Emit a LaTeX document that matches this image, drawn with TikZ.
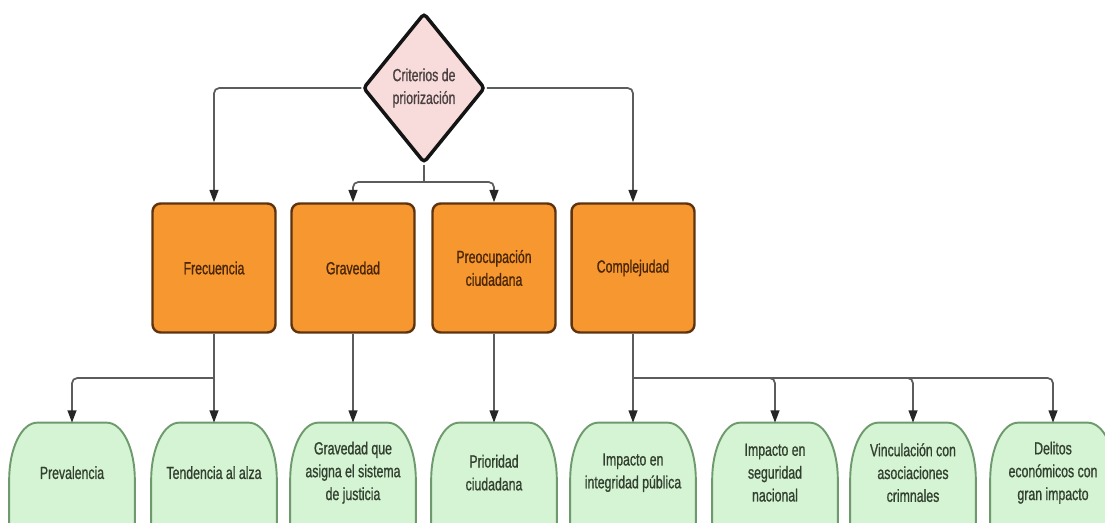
\documentclass[tikz,border=0pt]{standalone}
\usepackage{fontspec}
\setmainfont{Liberation Sans}[FakeStretch=0.7, FakeBold=0.9]
\usepackage{xcolor}
\usetikzlibrary{
    arrows.meta,
    shapes.geometric
}
\definecolor{critfill}{HTML}{F8DCDC}
\definecolor{critline}{HTML}{141414}
\definecolor{critfont}{HTML}{4A4040}
\definecolor{orgfill}{HTML}{F7972F}
\definecolor{orgline}{HTML}{5E3410}
\definecolor{orgfont}{HTML}{4A2608}
\definecolor{grnfill}{HTML}{D4F4D4}
\definecolor{grnline}{HTML}{6E9A6E}
\definecolor{grnfont}{HTML}{33402F}
\definecolor{conngray}{HTML}{5C5C5C}
\definecolor{tipgray}{HTML}{262626}

\begin{document}
\begin{tikzpicture}[x=0.02cm, y=-0.02cm,
    txt/.style={font={\fontsize{10}{13}\selectfont}, align=center},
    critbox/.style={diamond, draw=critline, fill=critfill, line width=2pt, rounded corners=2pt,
        inner sep=0pt, minimum width=2.44cm, minimum height=3.0cm, txt, text=critfont},
    orgbox/.style={draw=orgline, fill=orgfill, line width=1.4pt, rounded corners=0.16cm,
        minimum width=2.46cm, minimum height=2.58cm, txt, text=orgfont},
    gtext/.style={txt, text=grnfont, anchor=center, yshift=-1cm},
    grnbox/.style={minimum width=2.5cm, minimum height=3cm,
        append after command={\pgfextra{\draw[draw=grnline, fill=grnfill, line width=1.1pt]
            ([yshift=-1.14cm]\tikzlastnode.north west)
            arc[start angle=180, end angle=90, x radius=0.56cm, y radius=1.14cm]
            -- ([xshift=-0.56cm]\tikzlastnode.north east)
            arc[start angle=90, end angle=0, x radius=0.56cm, y radius=1.14cm]
            -- (\tikzlastnode.south east) -- (\tikzlastnode.south west) -- cycle;}},
        label={[gtext]north:#1}},
    conn/.style={draw=conngray, line width=1pt, rounded corners=3pt,
        -{Triangle[length=7pt, width=5pt, color=tipgray]}},
    plain/.style={draw=conngray, line width=1pt}
]
                        \useasboundingbox (0, 0) rectangle (1105, 523);
                        \clip (0, 0) rectangle (1105, 523);
                        \node[critbox] (crit) at (424, 88) {Criterios de\\priorización};
                        \node[orgbox] (frec) at (214, 268) {Frecuencia};
                        \node[orgbox] (grav) at (353, 268) {Gravedad};
                        \node[orgbox] (preo) at (494, 268) {Preocupación\\ciudadana};
                        \node[orgbox] (comp) at (633, 268) {Complejudad};
                        \node[grnbox={Prevalencia}] (prev) at (72, 498) {};
                        \node[grnbox={Tendencia al alza}] (tend) at (214, 498) {};
                        \node[grnbox={Gravedad que\\asigna el sistema\\de justicia}] (gsis) at (353, 498) {};
                        \node[grnbox={Prioridad\\ciudadana}] (prio) at (494, 498) {};
                        \node[grnbox={Impacto en\\integridad pública}] (inte) at (633, 498) {};
                        \node[grnbox={Impacto en\\seguridad\\nacional}] (segu) at (775, 498) {};
                        \node[grnbox={Vinculación con\\asociaciones\\crimnales}] (vinc) at (913, 498) {};
                        \node[grnbox={Delitos\\económicos con\\gran impacto}] (deli) at (1053, 498) {};
                        \coordinate (critsplit) at (424, 182);
                        \coordinate (frecsplit) at (214, 378);
                        \coordinate (compsplit) at (633, 378);
                        \draw[conn] (crit.west) -| (frec.north);
                        \draw[conn] (crit.east) -| (comp.north);
                        \draw[plain] (crit.south) -- (critsplit);
                        \draw[conn] (critsplit) -| (grav.north);
                        \draw[conn] (critsplit) -| (preo.north);
                        \draw[plain] (frec.south) -- (frecsplit);
                        \draw[conn] (frecsplit) -| (prev.north);
                        \draw[conn] (frecsplit) -- (tend.north);
                        \draw[conn] (grav.south) -- (gsis.north);
                        \draw[conn] (preo.south) -- (prio.north);
                        \draw[plain] (comp.south) -- (compsplit);
                        \draw[conn] (compsplit) -- (inte.north);
                        \draw[conn] (compsplit) -| (segu.north);
                        \draw[conn] (compsplit) -| (vinc.north);
                        \draw[conn] (compsplit) -| (deli.north);
                    \end{tikzpicture}
\end{document}
